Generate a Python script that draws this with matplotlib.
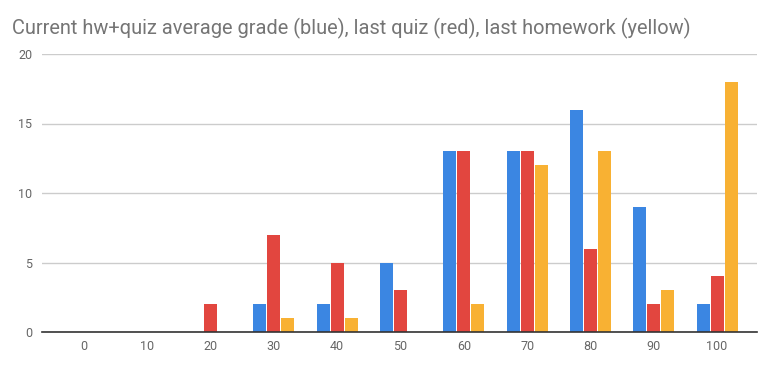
import matplotlib
matplotlib.use("Agg")
import matplotlib.pyplot as plt
import numpy as np

categories = ["0", "10", "20", "30", "40", "50", "60", "70", "80", "90", "100"]
avg_grade = [0, 0, 0, 2, 2, 5, 13, 13, 16, 9, 2]
last_quiz = [0, 0, 2, 7, 5, 3, 13, 13, 6, 2, 4]
last_homework = [0, 0, 0, 1, 1, 0, 2, 12, 13, 3, 18]

colors = ["#3b86e2", "#e2463f", "#f8b133"]
plt.rcParams['font.family'] = ['Roboto', 'DejaVu Sans']

W, H = 777, 367
fig = plt.figure(figsize=(W / 100, H / 100), dpi=100)
left, right, bottom, top = 42, 757, 332, 54
ax = fig.add_axes([left / W, 1 - bottom / H, (right - left) / W, (bottom - top) / H])

x = np.arange(len(categories))
bw = 13 / 63.3
pitch = 14 / 63.3
for k, (vals, c) in enumerate(zip([avg_grade, last_quiz, last_homework], colors)):
    ax.bar(x + (k - 1) * pitch, vals, width=bw, color=c, zorder=3)

ax.set_xlim(-0.663, 10.63)
ax.set_ylim(0, 20)
ax.set_yticks([0, 5, 10, 15, 20])
ax.set_xticks(x)
ax.set_xticklabels(categories)
ax.grid(axis='y', color='#cccccc', linewidth=1, zorder=0)
for s in ['top', 'right', 'left']:
    ax.spines[s].set_visible(False)
ax.spines['bottom'].set_color('#333333')
ax.spines['bottom'].set_linewidth(1.2)
ax.spines['bottom'].set_zorder(4)
ax.tick_params(axis='both', length=0, labelsize=9, colors='#666666')
ax.tick_params(axis='y', pad=7)
ax.tick_params(axis='x', pad=6)

fig.text(12 / W, 1 - 28 / H, "Current hw+quiz average grade (blue), last quiz (red), last homework (yellow)",
         fontsize=14.4, color='#757575', va='center', ha='left')

fig.savefig("out.png", dpi=100)
